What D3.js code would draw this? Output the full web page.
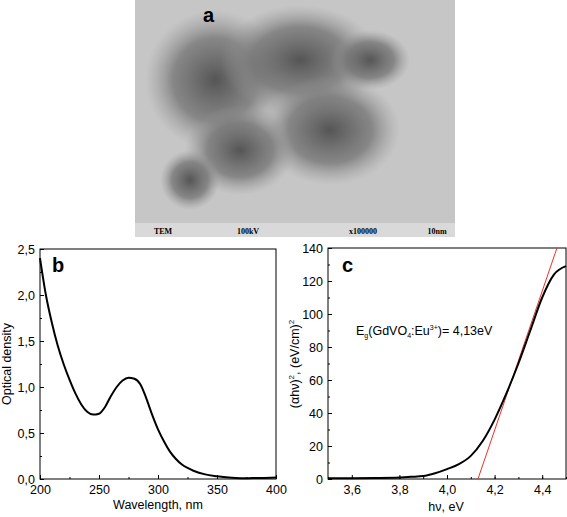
<!DOCTYPE html>
<html><head><meta charset="utf-8">
<script src="https://cdn.jsdelivr.net/npm/d3@7"></script>
<style>body{margin:0;background:#fff}svg{display:block;font-family:"Liberation Sans",Arial,sans-serif}</style>
</head><body>
<svg id="fig" width="567" height="517"></svg>
<script>
// panel b: optical density vs wavelength
const wavelength = [200,205,210,215,220,225,230,235,240,245,250,255,260,265,270,275,280,285,290,295,300,305,310,315,320,325,330,340,350,360,370,380,390,400]
const density = [2.4,2.0,1.7,1.45,1.25,1.08,0.93,0.81,0.73,0.70,0.71,0.78,0.90,1.00,1.07,1.10,1.09,1.03,0.88,0.70,0.54,0.41,0.30,0.22,0.16,0.12,0.09,0.05,0.03,0.015,0.008,0.01,0.012,0.015]
// panel c: Tauc plot
const energy = [3.5,3.6,3.7,3.8,3.85,3.9,3.95,4.0,4.05,4.1,4.15,4.2,4.25,4.3,4.35,4.4,4.45,4.5]
const tauc = [0.4,0.5,0.6,0.9,1.3,1.8,3.5,6,9,14,23,36,52,70,90,110,124,129]
const fitLine = [[4.13,0],[4.462,140]]
const temLabels = ['TEM','100kV','x100000','10nm']

const svg = d3.select('#fig')

// panel a: TEM image placeholder
const tem = svg.append('g')
const defs = svg.append('defs')
const gr = defs.append('radialGradient').attr('id','blob')
gr.append('stop').attr('offset','0%').attr('stop-color','#555')
gr.append('stop').attr('offset','60%').attr('stop-color','#777').attr('stop-opacity',0.8)
gr.append('stop').attr('offset','100%').attr('stop-color','#999').attr('stop-opacity',0)
tem.append('rect').attr('x',135).attr('y',0).attr('width',320).attr('height',223).attr('fill','#c6c6c6')
const blobs = [[215,80,70,70],[300,60,80,55],[330,130,70,55],[240,150,55,45],[370,60,40,30],[190,180,30,30]]
tem.selectAll('ellipse').data(blobs).enter().append('ellipse')
	.attr('cx',d => d[0]).attr('cy',d => d[1]).attr('rx',d => d[2]).attr('ry',d => d[3]).attr('fill','url(#blob)')
tem.append('rect').attr('x',135).attr('y',223).attr('width',320).attr('height',14).attr('fill','#d9d9d9')
const temX = [163,248,363,437]
tem.selectAll('.tl').data(temLabels).enter().append('text')
	.attr('x',(d,i) => temX[i]).attr('y',234).attr('font-family','Liberation Serif,serif')
	.attr('font-weight','bold').attr('font-size',8).attr('text-anchor','middle').text(d => d)
svg.append('text').attr('x',203).attr('y',22).attr('font-weight','bold').attr('font-size',20).text('a')

function panel(o) {
	const g = svg.append('g')
	const x = d3.scaleLinear().domain(o.xd).range([o.x0,o.x1])
	const y = d3.scaleLinear().domain(o.yd).range([o.y0,o.y1])
	const minorX = d3.range(o.xd[0],o.xd[1]+1e-9,o.xm)
	const minorY = d3.range(o.yd[0],o.yd[1]+1e-9,o.ym)
	g.append('g').attr('transform',`translate(0,${o.y0})`)
		.call(d3.axisBottom(x).tickValues(minorX).tickSize(-2).tickFormat(''))
	g.append('g').attr('transform',`translate(${o.x0},0)`)
		.call(d3.axisLeft(y).tickValues(minorY).tickSize(-2).tickFormat(''))
	g.append('g').attr('transform',`translate(0,${o.y0})`)
		.call(d3.axisBottom(x).tickValues(o.xt).tickSize(-4).tickPadding(6).tickFormat(o.xf))
	g.append('g').attr('transform',`translate(${o.x0},0)`)
		.call(d3.axisLeft(y).tickValues(o.yt).tickSize(-4).tickPadding(5).tickFormat(o.yf))
	g.selectAll('.domain').remove()
	g.selectAll('text').attr('font-size',12.5).attr('font-family','Liberation Sans,Arial,sans-serif').attr('fill','#000')
	g.append('rect').attr('x',o.x0).attr('y',o.y1).attr('width',o.x1-o.x0).attr('height',o.y0-o.y1)
		.attr('fill','none').attr('stroke','#000').attr('stroke-width',1)
	return {g,x,y}
}
const comma = f => d => d3.format(f)(d).replace('.',',')

const b = panel({xd:[200,400],yd:[0,2.5],x0:40,x1:276,y0:479,y1:249,xt:[200,250,300,350,400],yt:[0,0.5,1,1.5,2,2.5],
	xm:25,ym:0.25,xf:d3.format('d'),yf:comma('.1f')})
b.g.append('path').datum(wavelength.map((w,i) => [w,density[i]]))
	.attr('d',d3.line().x(d => b.x(d[0])).y(d => b.y(d[1])).curve(d3.curveMonotoneX))
	.attr('fill','none').attr('stroke','#000').attr('stroke-width',2)
b.g.append('text').attr('x',52).attr('y',272).attr('font-weight','bold').attr('font-size',20).text('b')
b.g.append('text').attr('x',158).attr('y',509).attr('text-anchor','middle').attr('font-size',12.5).text('Wavelength, nm')
b.g.append('text').attr('transform','translate(11,364) rotate(-90)').attr('text-anchor','middle').attr('font-size',12.5).text('Optical density')

const c = panel({xd:[3.5,4.5],yd:[0,140],x0:328,x1:566,y0:479,y1:248,xt:[3.6,3.8,4.0,4.2,4.4],yt:[0,20,40,60,80,100,120,140],
	xm:0.1,ym:10,xf:comma('.1f'),yf:d3.format('d')})
const clip = defs.append('clipPath').attr('id','cc')
clip.append('rect').attr('x',328).attr('y',248).attr('width',238).attr('height',231)
c.g.append('path').datum(fitLine).attr('clip-path','url(#cc)')
	.attr('d',d3.line().x(d => c.x(d[0])).y(d => c.y(d[1])))
	.attr('fill','none').attr('stroke','#e8332a').attr('stroke-width',1)
c.g.append('path').datum(energy.map((e,i) => [e,tauc[i]]))
	.attr('d',d3.line().x(d => c.x(d[0])).y(d => c.y(d[1])).curve(d3.curveMonotoneX))
	.attr('fill','none').attr('stroke','#000').attr('stroke-width',2)
c.g.append('text').attr('x',342).attr('y',272).attr('font-weight','bold').attr('font-size',20).text('c')
const eq = c.g.append('text').attr('x',356).attr('y',335).attr('font-size',12.5)
eq.append('tspan').text('E')
eq.append('tspan').attr('font-size',7).attr('dy',3).text('g')
eq.append('tspan').attr('dy',-3).text('(GdVO')
eq.append('tspan').attr('font-size',7).attr('dy',3).text('4')
eq.append('tspan').attr('dy',-3).text(':Eu')
eq.append('tspan').attr('font-size',7).attr('dy',-5).text('3+')
eq.append('tspan').attr('dy',5).text(')= 4,13eV')
c.g.append('text').attr('x',446).attr('y',511).attr('text-anchor','middle').attr('font-size',12.5).text('hν, eV')
const yl = c.g.append('text').attr('transform','translate(299,364) rotate(-90)').attr('text-anchor','middle').attr('font-size',12.5)
yl.append('tspan').text('(αhν)')
yl.append('tspan').attr('font-size',8).attr('dy',-5).text('2')
yl.append('tspan').attr('dy',5).text(', (eV/cm)')
yl.append('tspan').attr('font-size',8).attr('dy',-5).text('2')
</script>
</body></html>
